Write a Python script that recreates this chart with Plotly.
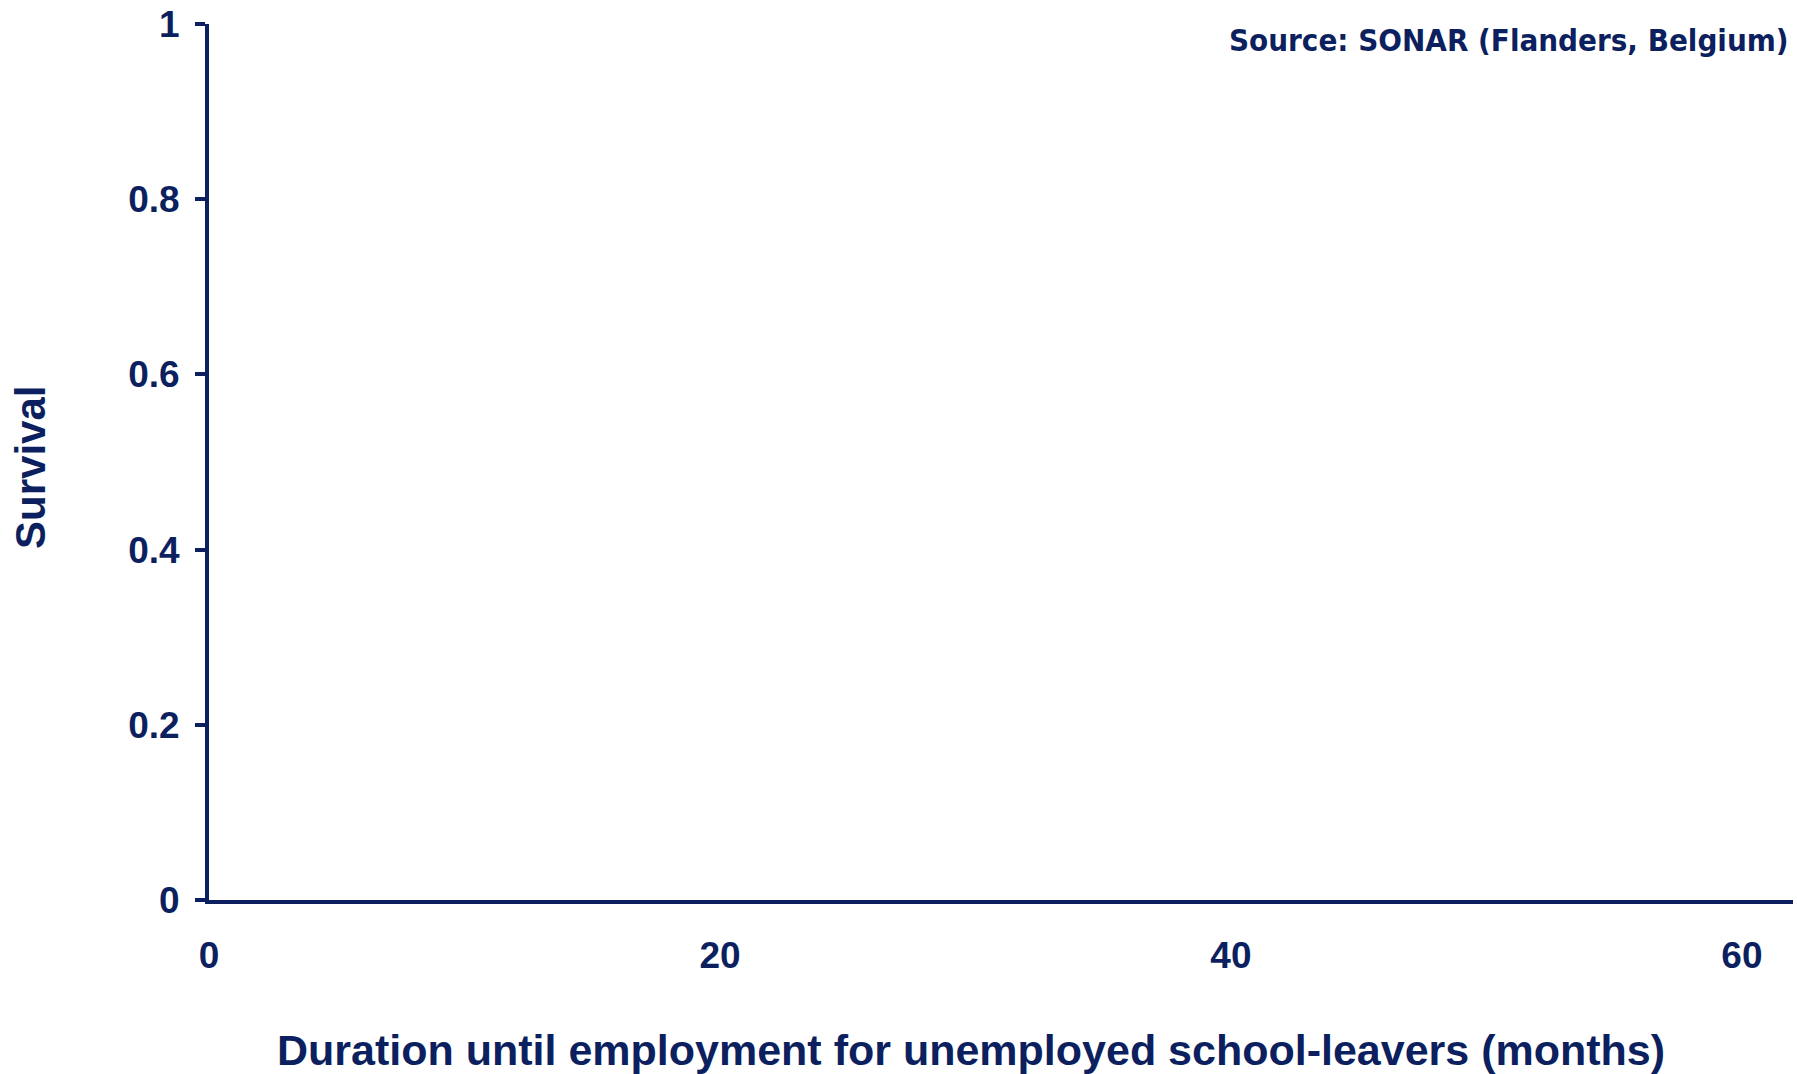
import plotly.graph_objects as go

# Axis definitions (the reference shows empty axes, no data series)
x_tick_vals = [0, 20, 40, 60]
x_tick_text = ["0", "20", "40", "60"]
y_tick_vals = [0, 0.2, 0.4, 0.6, 0.8, 1]
y_tick_text = ["0", "0.2", "0.4", "0.6", "0.8", "1"]
x_title = "Duration until employment for unemployed school-leavers (months)"
y_title = "Survival"
source_text = "Source: SONAR (Flanders, Belgium)"

NAVY = "#0c1f5e"
FONT = "Liberation Sans"

W, H = 1797, 1074
L, R, T, B = 209, 4, 22, 174
pw = W - L - R
ph = H - T - B

def px(xp):
    return (xp - L) / pw

def py(yp):
    return (H - B - yp) / ph

fig = go.Figure()
fig.add_trace(go.Scatter(x=[], y=[], mode="lines", showlegend=False))

fig.update_layout(
    width=W, height=H,
    margin=dict(l=L, r=R, t=T, b=B, pad=0),
    paper_bgcolor="white", plot_bgcolor="white",
    font=dict(family=FONT, color=NAVY),
    showlegend=False,
)

fig.update_xaxes(
    range=[0, 62], tickvals=x_tick_vals, ticktext=x_tick_text,
    showgrid=False, zeroline=False, showline=True, linecolor=NAVY, linewidth=4,
    ticks="", ticklabelstandoff=20,
    tickfont=dict(family=FONT, size=37, color=NAVY, weight="bold"),
)
fig.update_yaxes(
    range=[0, 1], tickvals=y_tick_vals, ticktext=y_tick_text,
    showgrid=False, zeroline=False, showline=True, linecolor=NAVY, linewidth=4,
    ticks="outside", ticklen=10, tickwidth=4, tickcolor=NAVY, ticklabelstandoff=8,
    tickfont=dict(family=FONT, size=37, color=NAVY, weight="bold"),
)

fig.add_annotation(
    text=f"<b>{source_text}</b>", xref="paper", yref="paper",
    x=px(1791), y=py(38), xanchor="right", yanchor="middle", showarrow=False,
    font=dict(family="DejaVu Sans Condensed", size=31, color=NAVY),
)
fig.add_annotation(
    text=f"<b>{x_title}</b>", xref="paper", yref="paper",
    x=px(971), y=py(1050), xanchor="center", yanchor="middle", showarrow=False,
    font=dict(family=FONT, size=43, color=NAVY),
)
fig.add_annotation(
    text=f"<b>{y_title}</b>", xref="paper", yref="paper",
    x=px(31), y=py(467), xanchor="center", yanchor="middle", showarrow=False,
    textangle=-90,
    font=dict(family=FONT, size=42, color=NAVY),
)

fig.write_html(
    "out.html",
    config={"displayModeBar": False},
    post_script="document.body.style.margin='0';document.body.style.overflow='hidden';",
)
